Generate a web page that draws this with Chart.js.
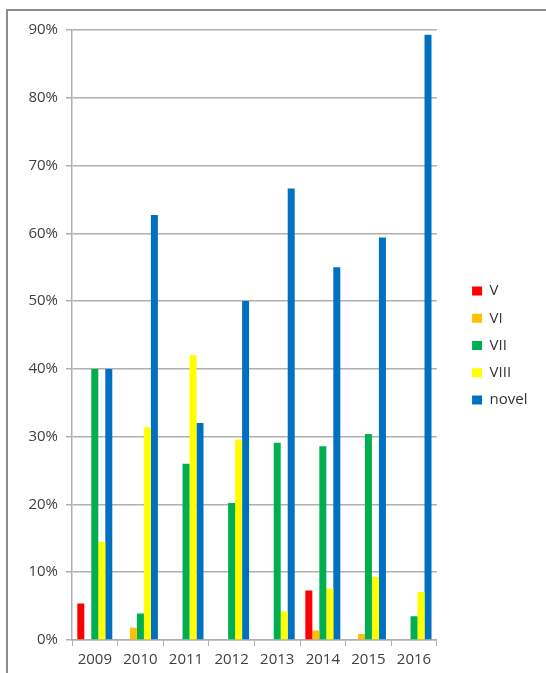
<html>
<head>
  <meta charset="utf-8">
  <script src="https://cdn.jsdelivr.net/npm/chart.js"></script>
  <style>
    body { margin: 0; background: #fff; overflow: hidden; }
    .frame { position: absolute; left: 6px; top: 9px; width: 600px; height: 700px; border: 2px solid #8c8c8c; }
    #graph { position: absolute; left: 0; top: 0; }
  </style>
</head>
<body>
  <div class="frame"></div>
  <canvas id="graph" width="546" height="673"></canvas>

  <script>
    // years on the x axis
    const years = ['2009', '2010', '2011', '2012', '2013', '2014', '2015', '2016'];

    // share per year, in percent
    const serieV    = [5.4, 0,    0,  0,    0,    7.3,  0,    0];
    const serieVI   = [0,   1.8,  0,  0,    0,    1.4,  0.9,  0];
    const serieVII  = [40,  3.9,  26, 20.2, 29.1, 28.6, 30.4, 3.5];
    const serieVIII = [14.5, 31.4, 42, 29.6, 4.2, 7.6,  9.3,  7.1];
    const serieNovel = [40, 62.7, 32, 50,   66.6, 55,   59.4, 89.3];

    const yTicks = [0, 10, 20, 30, 40, 50, 60, 70, 80, 90];

    const police = { family: 'Open Sans', size: 15 };
    const gris = '#b0b0b0';

    // moves the legend a bit away from the plot, like in the excel chart
    const decaleLegende = {
      id: 'decaleLegende',
      afterLayout(chart) {
        const lg = chart.legend;
        lg.left += 23; lg.right += 23;
        lg.top -= 6; lg.bottom -= 6;
      }
    };

    new Chart(document.getElementById('graph'), {
      type: 'bar',
      data: {
        labels: years,
        datasets: [
          { label: 'V', data: serieV, backgroundColor: '#ff0000' },
          { label: 'VI', data: serieVI, backgroundColor: '#ffc000' },
          { label: 'VII', data: serieVII, backgroundColor: '#00b050' },
          { label: 'VIII', data: serieVIII, backgroundColor: '#ffff00' },
          { label: 'novel', data: serieNovel, backgroundColor: '#0070c0' }
        ]
      },
      options: {
        responsive: false,
        animation: false,
        datasets: { bar: { categoryPercentage: 0.767, barPercentage: 1, borderWidth: 0 } },
        layout: { padding: { left: 25, top: 30, right: 31.5, bottom: 0 } },
        plugins: {
          tooltip: { enabled: false },
          legend: {
            position: 'right',
            labels: { boxWidth: 10, boxHeight: 9, padding: 12.25, color: '#333', font: police }
          }
        },
        scales: {
          x: {
            grid: { display: true, drawOnChartArea: false, tickLength: 6, color: gris },
            border: { color: gris, width: 1.5 },
            ticks: { color: '#404040', font: police, padding: 5, maxRotation: 0 },
            afterFit(scale) { scale.height = 33; }
          },
          y: {
            min: 0,
            max: 90,
            afterBuildTicks(scale) { scale.ticks = yTicks.map(v => ({ value: v })); },
            grid: { color: gris, lineWidth: 1.5, tickLength: 6 },
            border: { color: gris, width: 1.5 },
            ticks: { color: '#404040', font: police, padding: 8, callback: v => v + '%' },
            afterFit(scale) { scale.width = 47; }
          }
        }
      },
      plugins: [decaleLegende]
    });
  </script>
</body>
</html>
